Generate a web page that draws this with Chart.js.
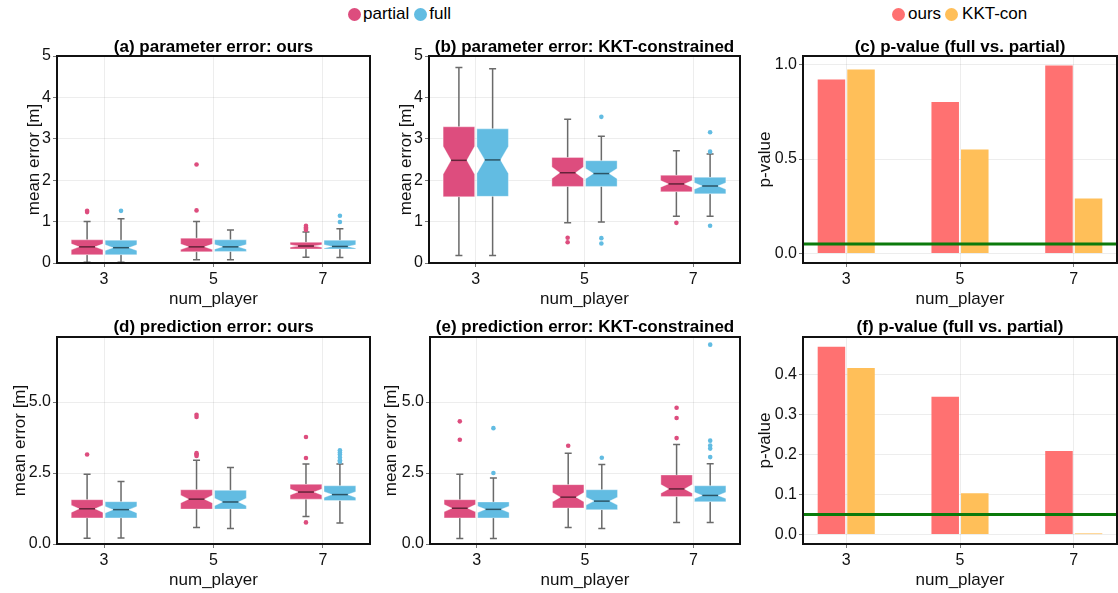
<!DOCTYPE html>
<html>
<head>
<meta charset="utf-8">
<script src="https://cdn.jsdelivr.net/npm/chart.js@4"></script>
<style>
body { margin: 0; background: #fff; width: 1118px; height: 593px; position: relative; overflow: hidden; font-family: 'Liberation Sans', Arial, sans-serif; }
canvas { position: absolute; }
.legend { position: absolute; top: 4px; display: flex; align-items: center; font-size: 17px; line-height: 20px; color: #000; white-space: nowrap; }
.dot { width: 13px; height: 13px; border-radius: 50%; display: inline-block; margin-right: 2px; }
</style>
</head>
<body>
<div class="legend" style="left:348px"><span class="dot" style="background:#dd4d7e"></span>partial<span class="dot" style="background:#62bce2;margin-left:5px"></span>full</div>
<div class="legend" style="left:892px"><span class="dot" style="background:#ff7171;margin-right:3px"></span>ours<span class="dot" style="background:#ffbf59;margin-left:4px;margin-right:4px"></span>KKT-con</div>
<script>
// categories
const players = ['3', '5', '7'];

// box stats per player: [lower whisker, q1, median, q3, upper whisker]
// (a) parameter error: ours
const paramOursPartial = [[0.02, 0.20, 0.39, 0.56, 1.00], [0.08, 0.27, 0.39, 0.60, 1.00], [0.14, 0.34, 0.41, 0.50, 0.75]];
const paramOursPartialOut = [[1.23, 1.26], [1.27, 2.38], [0.80, 0.83, 0.86, 0.90]];
const paramOursFull = [[0.02, 0.20, 0.37, 0.55, 1.07], [0.08, 0.28, 0.39, 0.56, 0.80], [0.13, 0.34, 0.40, 0.55, 0.83]];
const paramOursFullOut = [[1.26], [], [0.99, 1.14]];

// (b) parameter error: KKT-constrained
const paramKktPartial = [[0.18, 1.60, 2.48, 3.29, 4.72], [0.97, 1.85, 2.18, 2.55, 3.47], [1.13, 1.72, 1.91, 2.12, 2.71]];
const paramKktPartialOut = [[], [0.50, 0.61], [0.97]];
const paramKktFull = [[0.18, 1.61, 2.49, 3.24, 4.69], [0.99, 1.85, 2.16, 2.47, 3.06], [1.13, 1.67, 1.86, 2.07, 2.63]];
const paramKktFullOut = [[], [0.47, 0.60, 3.53], [0.90, 2.69, 3.16]];

// (d) prediction error: ours
const predOursPartial = [[0.20, 0.92, 1.24, 1.56, 2.46], [0.58, 1.23, 1.58, 1.91, 2.95], [0.97, 1.58, 1.83, 2.10, 2.82]];
const predOursPartialOut = [[3.15], [3.10, 3.15, 3.20, 4.47, 4.55], [0.76, 3.03, 3.77]];
const predOursFull = [[0.21, 0.92, 1.21, 1.49, 2.20], [0.55, 1.23, 1.48, 1.89, 2.69], [0.74, 1.53, 1.74, 2.05, 2.82]];
const predOursFullOut = [[], [], [2.90, 2.95, 3.05, 3.15, 3.22, 3.30]];

// (e) prediction error: KKT-constrained
const predKktPartial = [[0.19, 0.92, 1.26, 1.56, 2.46], [0.58, 1.27, 1.65, 2.09, 3.20], [0.76, 1.67, 1.94, 2.43, 3.50]];
const predKktPartialOut = [[3.67, 4.32], [3.46], [3.73, 4.44, 4.80]];
const predKktFull = [[0.19, 0.92, 1.22, 1.48, 2.32], [0.55, 1.21, 1.51, 1.91, 2.80], [0.76, 1.49, 1.71, 2.05, 2.83]];
const predKktFullOut = [[2.50, 4.08], [3.04], [3.06, 3.36, 3.47, 3.64, 7.02]];

// p-values (full vs. partial)
const pParamOurs = [0.921, 0.802, 0.995];
const pParamKkt = [0.974, 0.550, 0.291];
const pPredOurs = [0.469, 0.344, 0.209];
const pPredKkt = [0.416, 0.103, 0.003];
const pThreshold = 0.05;

// tick values
const errTicks = [0, 1, 2, 3, 4, 5];
const predTicks = [0, 2.5, 5.0];
const pParamTicks = [0, 0.5, 1.0];
const pPredTicks = [0, 0.1, 0.2, 0.3, 0.4];

const pink = '#dd4d7e';
const blue = '#62bce2';
const red = '#ff7171';
const orange = '#ffbf59';
const gridColor = 'rgba(0,0,0,0.07)';
const BOX_W = 0.29;
const DODGE = 0.155;
const NOTCH_K = 0.2;

Chart.defaults.font.family = "'Liberation Sans', Arial, sans-serif";
Chart.defaults.color = '#111';

function addCanvas(left, top, w, h) {
    const c = document.createElement('canvas');
    c.width = w; c.height = h;
    c.style.left = left + 'px'; c.style.top = top + 'px';
    c.style.width = w + 'px'; c.style.height = h + 'px';
    document.body.appendChild(c);
    return c;
}

// frame + centred panel title
const panelPlugin = {
    id: 'panel',
    afterDatasetsDraw(chart, args, opts) {
        if (opts.threshold === undefined) return;
        const {ctx, chartArea, scales: {y}} = chart;
        const py = y.getPixelForValue(opts.threshold);
        ctx.save();
        ctx.strokeStyle = '#0b7a0b';
        ctx.lineWidth = 3;
        ctx.beginPath(); ctx.moveTo(chartArea.left, py); ctx.lineTo(chartArea.right, py); ctx.stroke();
        ctx.restore();
    },
    afterDraw(chart, args, opts) {
        const {ctx, chartArea} = chart;
        ctx.save();
        ctx.strokeStyle = '#111';
        ctx.lineWidth = 2;
        ctx.strokeRect(chartArea.left, chartArea.top, chartArea.right - chartArea.left, chartArea.bottom - chartArea.top);
        ctx.fillStyle = '#000';
        ctx.font = "bold 17px 'Liberation Sans', Arial, sans-serif";
        ctx.textAlign = 'center';
        ctx.textBaseline = 'middle';
        ctx.fillText(opts.title, (chartArea.left + chartArea.right) / 2, chartArea.top - opts.gap);
        ctx.restore();
    }
};

// notched boxes drawn through the chart scales
const boxPlugin = {
    id: 'boxes',
    beforeDatasetsDraw(chart, args, opts) {
        if (!opts.groups) return;
        const {ctx, chartArea, scales: {x, y}} = chart;
        ctx.save();
        ctx.beginPath();
        ctx.rect(chartArea.left, chartArea.top, chartArea.right - chartArea.left, chartArea.bottom - chartArea.top);
        ctx.clip();
        opts.groups.forEach(g => {
            g.stats.forEach((s, i) => {
                const [lo, q1, med, q3, hi] = s;
                const cx = i + 1 + g.shift;
                const L = x.getPixelForValue(cx - BOX_W / 2);
                const R = x.getPixelForValue(cx + BOX_W / 2);
                const C = x.getPixelForValue(cx);
                const nd = Math.min(NOTCH_K * (q3 - q1), med - q1, q3 - med);
                const pLo = y.getPixelForValue(lo), pQ1 = y.getPixelForValue(q1), pMed = y.getPixelForValue(med);
                const pQ3 = y.getPixelForValue(q3), pHi = y.getPixelForValue(hi);
                const pNhi = y.getPixelForValue(med + nd), pNlo = y.getPixelForValue(med - nd);
                const inset = (R - L) / 4;

                ctx.strokeStyle = '#6a6a6a';
                ctx.lineWidth = 1.5;
                ctx.beginPath();
                ctx.moveTo(C, pHi); ctx.lineTo(C, pQ3);
                ctx.moveTo(C, pQ1); ctx.lineTo(C, pLo);
                ctx.moveTo(C - 3.5, pHi); ctx.lineTo(C + 3.5, pHi);
                ctx.moveTo(C - 3.5, pLo); ctx.lineTo(C + 3.5, pLo);
                ctx.stroke();

                ctx.beginPath();
                ctx.moveTo(L, pQ3); ctx.lineTo(R, pQ3); ctx.lineTo(R, pNhi); ctx.lineTo(R - inset, pMed);
                ctx.lineTo(R, pNlo); ctx.lineTo(R, pQ1); ctx.lineTo(L, pQ1); ctx.lineTo(L, pNlo);
                ctx.lineTo(L + inset, pMed); ctx.lineTo(L, pNhi); ctx.closePath();
                ctx.fillStyle = g.color;
                ctx.fill();
                ctx.strokeStyle = 'rgba(255,255,255,0.35)';
                ctx.lineWidth = 1;
                ctx.stroke();

                ctx.beginPath();
                ctx.moveTo(L + inset, pMed); ctx.lineTo(R - inset, pMed);
                ctx.strokeStyle = 'rgba(0,0,0,0.55)';
                ctx.lineWidth = 1.5;
                ctx.stroke();
            });
        });
        ctx.restore();
    }
};

function xAxis(min, max) {
    return {
        type: 'linear', min: min, max: max, offset: false,
        afterBuildTicks: s => { s.ticks = players.map((p, i) => ({ value: i + 1 })); },
        afterFit: s => { s.height = 47; },
        ticks: { callback: v => players[Math.round(v) - 1], padding: 3, font: { size: 16 }, color: '#111', maxRotation: 0, autoSkip: false },
        grid: { color: gridColor, drawTicks: true, tickLength: 4, tickColor: '#777', offset: false },
        border: { display: false },
        title: { display: true, text: 'num_player', font: { size: 17, lineHeight: 1 }, padding: { top: 0, bottom: 2 }, color: '#111' }
    };
}

function yAxis(min, max, tickVals, fmt, yW, labelOff, label) {
    return {
        type: 'linear', min: min, max: max,
        afterBuildTicks: s => { s.ticks = tickVals.map(v => ({ value: v })); },
        afterFit: s => { s.width = yW; },
        ticks: { callback: fmt, padding: 2, font: { size: 16 }, color: '#111' },
        grid: { color: gridColor, drawTicks: true, tickLength: 4, tickColor: '#777' },
        border: { display: false },
        title: { display: true, text: label, font: { size: 17, lineHeight: 1 }, padding: { top: yW - labelOff - 8.5, bottom: 0 }, color: '#111' }
    };
}

function outlierPoints(outs, shift) {
    const pts = [];
    outs.forEach((list, i) => list.forEach(v => pts.push({ x: i + 1 + shift, y: v })));
    return pts;
}

function boxChart(cv, p) {
    return new Chart(cv, {
        type: 'scatter',
        data: {
            datasets: [
                { label: 'partial', data: outlierPoints(p.partialOut, -DODGE), backgroundColor: pink, borderWidth: 0, pointRadius: 2.3 },
                { label: 'full', data: outlierPoints(p.fullOut, DODGE), backgroundColor: blue, borderWidth: 0, pointRadius: 2.3 }
            ]
        },
        options: {
            responsive: false, animation: false, events: [],
            layout: { padding: p.pad },
            scales: {
                x: xAxis(0.57, 3.43),
                y: yAxis(p.yMin, p.yMax, p.ticks, p.fmt, p.yW, p.labelOff, 'mean error [m]')
            },
            plugins: {
                legend: { display: false }, tooltip: { enabled: false },
                boxes: { groups: [{ stats: p.partial, color: pink, shift: -DODGE }, { stats: p.full, color: blue, shift: DODGE }] },
                panel: { title: p.title, gap: p.gap }
            }
        },
        plugins: [boxPlugin, panelPlugin]
    });
}

function barChart(cv, p) {
    return new Chart(cv, {
        type: 'bar',
        data: {
            datasets: [
                { label: 'ours', data: p.ours.map((v, i) => ({ x: i + 1, y: v })), backgroundColor: red, borderWidth: 0, categoryPercentage: 0.52, barPercentage: 0.93 },
                { label: 'KKT-con', data: p.kkt.map((v, i) => ({ x: i + 1, y: v })), backgroundColor: orange, borderWidth: 0, categoryPercentage: 0.52, barPercentage: 0.93 }
            ]
        },
        options: {
            responsive: false, animation: false, events: [],
            layout: { padding: p.pad },
            scales: {
                x: xAxis(0.62, 3.38),
                y: yAxis(p.yMin, p.yMax, p.ticks, v => v.toFixed(1), p.yW, p.labelOff, 'p-value')
            },
            plugins: {
                legend: { display: false }, tooltip: { enabled: false },
                panel: { title: p.title, gap: p.gap, threshold: pThreshold }
            }
        },
        plugins: [panelPlugin]
    });
}

const row1 = { top: 26, right: 2, bottom: 0, left: 0 };
const row2 = { top: 27, right: 2, bottom: 2, left: 0 };

boxChart(addCanvas(0, 30, 374, 280), {
    title: '(a) parameter error: ours', gap: 9, pad: row1, yW: 57, labelOff: 23,
    yMin: 0, yMax: 5, ticks: errTicks, fmt: v => String(v),
    partial: paramOursPartial, partialOut: paramOursPartialOut, full: paramOursFull, fullOut: paramOursFullOut
});
boxChart(addCanvas(374, 30, 370, 280), {
    title: '(b) parameter error: KKT-constrained', gap: 9, pad: row1, yW: 55, labelOff: 23,
    yMin: 0, yMax: 5, ticks: errTicks, fmt: v => String(v),
    partial: paramKktPartial, partialOut: paramKktPartialOut, full: paramKktFull, fullOut: paramKktFullOut
});
barChart(addCanvas(744, 30, 374, 280), {
    title: '(c) p-value (full vs. partial)', gap: 9, pad: { top: 26, right: 1, bottom: 0, left: 0 }, yW: 59, labelOff: 38,
    yMin: -0.05, yMax: 1.045, ticks: pParamTicks, ours: pParamOurs, kkt: pParamKkt
});
boxChart(addCanvas(0, 310, 374, 283), {
    title: '(d) prediction error: ours', gap: 10, pad: row2, yW: 57, labelOff: 37,
    yMin: 0, yMax: 7.29, ticks: predTicks, fmt: v => v.toFixed(1),
    partial: predOursPartial, partialOut: predOursPartialOut, full: predOursFull, fullOut: predOursFullOut
});
boxChart(addCanvas(374, 310, 370, 283), {
    title: '(e) prediction error: KKT-constrained', gap: 10, pad: row2, yW: 56, labelOff: 39,
    yMin: 0, yMax: 7.29, ticks: predTicks, fmt: v => v.toFixed(1),
    partial: predKktPartial, partialOut: predKktPartialOut, full: predKktFull, fullOut: predKktFullOut
});
barChart(addCanvas(744, 310, 374, 283), {
    title: '(f) p-value (full vs. partial)', gap: 10, pad: { top: 27, right: 1, bottom: 2, left: 0 }, yW: 59, labelOff: 38,
    yMin: -0.0235, yMax: 0.4935, ticks: pPredTicks, ours: pPredOurs, kkt: pPredKkt
});
</script>
</body>
</html>
